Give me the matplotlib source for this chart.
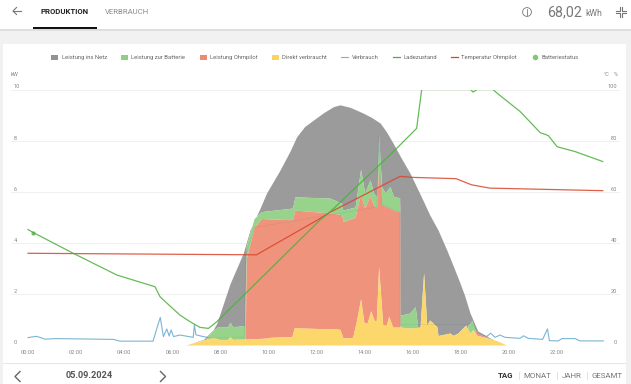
import numpy as np
import matplotlib
matplotlib.use("Agg")
import matplotlib.pyplot as plt
from matplotlib.patches import Rectangle, Circle, Patch
from matplotlib.lines import Line2D

plt.rcParams['font.family'] = ['Roboto', 'DejaVu Sans']

# ---------- data (cumulative stack tops, kW) ----------
yellow_t = [6.57,7.3,7.7,8.0,8.3,8.4,8.5,9.0,9.9,10.06,10.97,11.07,12.8,12.97,13.1,13.5,13.67,13.83,13.97,14.1,14.25,14.4,14.48,14.58,14.75,14.9,15.0,15.16,15.5,15.87,16.3,16.45,16.58,16.7,17.0,17.05,17.55,17.65,17.85,18.2,18.37,18.5,18.65,19.5,19.9]
yellow_v = [0,.2,.3,.2,.22,.35,.22,.23,.27,.3,.33,.67,.63,.61,.27,.3,1.0,1.81,.86,.86,1.34,.95,.95,3.06,.78,.78,1.13,.7,.7,.66,.7,2.83,.78,.98,.72,.37,.47,.38,.45,.78,.47,.6,.39,.17,0]
orange_t = [8.99,9.03,9.08,9.4,9.7,11.0,11.1,12.55,13.04,13.1,13.6,13.75,13.83,14.0,14.22,14.4,14.5,14.58,14.7,15.2,15.46,15.47,18.5,18.6,18.75,19.2,19.5]
orange_v = [0,.25,3.4,4.6,4.95,4.9,5.28,5.17,5.1,4.83,5.0,5.6,5.9,5.35,5.85,5.4,5.4,7.1,5.5,5.28,5.2,0,0,.55,.45,.25,.17]
green_t = [7.3,7.4,7.7,7.9,8.3,8.4,8.5,9.0,9.08,9.4,9.7,11.0,11.1,12.55,13.04,13.08,13.6,13.83,14.0,14.22,14.4,14.5,14.58,14.7,14.85,15.05,15.2,15.45,15.48,15.87,16.1,16.2,16.25,18.2,18.3,18.45,18.6,18.7]
green_v = [0,.25,.59,.72,.72,.9,.72,.75,3.9,4.95,5.22,5.36,5.8,5.75,5.55,5.28,5.4,6.88,5.95,6.46,5.87,5.85,8.22,6.2,5.95,6.2,5.8,5.77,1.17,1.25,1.5,.72,0,0,.78,.95,.6,.4]
net_t = [6.57,7.3,7.7,7.85,8.4,8.95,9.23,9.6,9.92,10.48,10.9,11.17,11.5,11.86,12.3,12.7,12.97,13.4,13.93,14.3,14.64,14.9,15.18,15.5,15.88,16.1,16.42,16.7,17.05,17.42,17.7,17.96,18.15,18.38,18.7,19.2,19.75,19.9]
net_v = [0,.22,.6,.85,2.4,3.6,4.5,5.25,5.95,6.85,7.6,8.15,8.55,8.8,9.1,9.33,9.4,9.3,9.08,8.9,8.69,8.35,7.9,7.35,6.73,6.3,5.67,5.1,4.5,3.7,3.05,2.43,1.95,1.25,.55,.28,.04,0]

verbrauch_t = [0,.36,.7,1.2,3.55,3.83,5.2,5.38,5.5,5.63,5.77,5.87,5.95,6.05,6.32,6.87,6.92,6.98,7.28,7.64,8.0,8.99,9.05,9.4,14.5,14.58,14.7,15.46,15.47,16.0,18.2,18.45,18.72,19.07,19.24,19.42,19.63,19.83,20.46,20.6,20.8,21.4,21.6,21.68,22.05,22.2,22.75,22.95,23.92]
verbrauch_v = [.29,.34,.23,.25,.22,.15,.15,.72,1.08,.33,.63,.35,.59,.33,.39,.3,.78,.4,.33,.27,.3,.3,3.5,4.6,5.4,8.2,5.5,5.2,.8,.8,.8,.86,.46,.33,.46,.3,.39,.3,.26,.36,.26,.22,.63,.17,.16,.25,.25,.16,.16]

soc_t = [0,.22,1.88,3.69,5.28,5.49,5.9,6.32,6.74,7.15,7.5,7.85,12.14,12.55,15.26,16.16,16.37,18.41,18.5,18.67,19.33,19.58,20.46,21.3,21.63,22.0,22.75,23.9]
soc_v = [45.2,44,35.9,27.4,22.8,18.9,15.3,11.7,9.1,6.9,6.5,9.1,48.9,52,76.3,84.8,100,100,99,100,100,98,91.4,83.1,82,77.6,75.7,71.8]
temp_t = [0,9.5,12.05,12.55,15.47,16.0,17.8,18.44,19.2,23.9]
temp_v = [35.9,35.3,49,51.9,66,65.6,65.1,62.7,61.4,60.4]
status_t = [.22]
status_v = [44]

series_names = ['Leistung ins Netz','Leistung zur Batterie','Leistung Ohmpilot','Direkt verbraucht','Verbrauch','Ladezustand','Temperatur Ohmpilot','Batteriestatus']
hours = list(range(0,24,2))
hour_labels = [f'{h:02d}:00' for h in hours]
left_ticks = [0,2,4,6,8,10]
right_ticks = [0,20,40,60,80,100]
date_label = '05.09.2024'
total_label = '68,02'

C_NET, C_BAT, C_OHM, C_DIR = '#939393', '#8ed081', '#ee8a72', '#fbd460'
C_USE, C_SOC, C_TMP = '#7ab6d2', '#4caf3c', '#d9442a'

W, H = 631, 384
fig = plt.figure(figsize=(W/100, H/100), dpi=100, facecolor='white')

# page furniture in pixel coordinates
bg = fig.add_axes([0,0,1,1], zorder=0)
bg.set_xlim(0,W); bg.set_ylim(H,0); bg.axis('off')
bg.add_patch(Rectangle((0,30),W,H-30,fc='#f1f1f1',ec='none'))
bg.add_patch(Rectangle((0,29),W,2,fc='#dedede',ec='none'))
bg.add_patch(Rectangle((3,44),623,H-44,fc='white',ec='none'))
bg.add_patch(Rectangle((3,362.8),623,.8,fc='#e6e6e6',ec='none'))
bg.add_patch(Rectangle((33,27),64,2,fc='#111111',ec='none'))
bg.add_patch(Rectangle((97.5,8),.6,8,fc='#dddddd',ec='none'))
bg.text(40.5,11.5,'PRODUKTION',fontsize=5.6,fontweight='bold',color='#222222',va='center',ha='left')
bg.text(105,11.5,'VERBRAUCH',fontsize=5.6,color='#8a8a8a',va='center',ha='left')
bg.text(547,12,total_label,fontsize=10.3,color='#777777',va='center',ha='left')
bg.text(585,13.5,'kWh',fontsize=6.2,color='#777777',va='center',ha='left')
bg.plot([13,21],[11,11],color='#777777',lw=.8)
bg.plot([16.5,13,16.5],[7.5,11,14.5],color='#777777',lw=.8)
bg.add_patch(Circle((527,12),4.4,fc='none',ec='#777777',lw=.6))
bg.plot([527,527],[10.8,14.5],color='#777777',lw=.6)
bg.plot([527,527],[9,9.8],color='#777777',lw=.6)
for sx,sy in [(-1,-1),(1,-1),(-1,1),(1,1)]:
    cx,cy = 621+sx*1.3,12+sy*1.3
    bg.plot([cx+sx*4,cx,cx],[cy,cy,cy+sy*4],color='#777777',lw=.8)
bg.plot([20,15,20],[371.5,376.5,381.5],color='#666666',lw=1)
bg.plot([160.5,165.5,160.5],[371.5,376.5,381.5],color='#666666',lw=1)
bg.text(89.5,376,date_label,fontsize=6.6,fontweight='bold',color='#555555',va='center',ha='center')
for lab,x,w,c in [('TAG',506,'bold','#333333'),('MONAT',537.5,'normal','#777777'),('JAHR',571.5,'normal','#777777'),('GESAMT',607.5,'normal','#777777')]:
    bg.text(x,375.8,lab,fontsize=5.7,fontweight=w,color=c,va='center',ha='center')
for x in [519,557,587]:
    bg.add_patch(Rectangle((x,372),.6,8,fc='#e2e2e2',ec='none'))
bg.text(11,75,'kW',fontsize=4.1,color='#888888',va='center',ha='left')
bg.text(610,75,'°C',fontsize=4.1,color='#888888',va='center',ha='right')
bg.text(618,75,'%',fontsize=4.1,color='#888888',va='center',ha='right')

# chart
px2t = lambda p: (p-28)/24.05
ax = fig.add_axes([11/W, 1-345/H, (620-11)/W, (345-89.5)/H], zorder=2)
ax.patch.set_alpha(0)
ax.set_xlim(px2t(11), px2t(620)); ax.set_ylim(0,10)
for s in ax.spines.values(): s.set_visible(False)
ax.set_xticks(hours); ax.set_xticklabels(hour_labels)
ax.set_yticks(left_ticks); ax.set_yticklabels(left_ticks, ha='left', va='bottom')
ax.tick_params(axis='x',length=0,pad=3.6,labelsize=4.1,labelcolor='#888888')
ax.tick_params(axis='y',length=0,pad=-2,labelsize=4.1,labelcolor='#888888')
ax.grid(axis='y',color='#f0f0f0',lw=.7,zorder=0)
ax.set_axisbelow(True)

grid = np.unique(np.concatenate([yellow_t,orange_t,green_t,net_t,np.linspace(6.5,20,541)]))
yy = np.interp(grid,yellow_t,yellow_v,left=0,right=0)
oo = np.maximum(yy,np.interp(grid,orange_t,orange_v,left=0,right=0))
gg = np.maximum(oo,np.interp(grid,green_t,green_v,left=0,right=0))
nn = np.maximum(gg,np.interp(grid,net_t,net_v,left=0,right=0))
ax.plot(verbrauch_t,verbrauch_v,color=C_USE,lw=.8,zorder=2)
A = .92
ax.fill_between(grid,gg,nn,color=C_NET,lw=0,alpha=A,zorder=3)
ax.fill_between(grid,oo,gg,color=C_BAT,lw=0,alpha=A,zorder=3)
ax.fill_between(grid,yy,oo,color=C_OHM,lw=0,alpha=A,zorder=3)
ax.fill_between(grid,0,yy,color=C_DIR,lw=0,alpha=A,zorder=3)

ax2 = ax.twinx()
ax2.set_zorder(3); ax2.patch.set_alpha(0)
ax2.set_ylim(0,100)
for s in ax2.spines.values(): s.set_visible(False)
ax2.set_yticks(right_ticks); ax2.set_yticklabels(right_ticks, ha='right', va='bottom')
ax2.tick_params(axis='y',length=0,pad=-2,labelsize=4.1,labelcolor='#888888')
ax2.plot(temp_t,temp_v,color=C_TMP,lw=.9,alpha=.85)
ax2.plot(soc_t,soc_v,color=C_SOC,lw=.9,alpha=.85)
ax2.plot(status_t,status_v,'o',color=C_SOC,ms=3,alpha=.8,mew=0)

handles = [Patch(fc=C_NET),Patch(fc=C_BAT),Patch(fc=C_OHM),Patch(fc=C_DIR),
           Line2D([],[],color=C_USE,lw=.8),Line2D([],[],color=C_SOC,lw=.9),Line2D([],[],color=C_TMP,lw=.9),
           Line2D([],[],color='#7fca72',marker='o',ms=4,ls='',mew=0)]
leg = fig.legend(handles,series_names,ncol=8,loc='center',bbox_to_anchor=(315/W,1-57.5/H),frameon=False,
           fontsize=4.2,labelcolor='#666666',handlelength=1.2,handleheight=1.15,handletextpad=.6,columnspacing=2.42,borderpad=0)
fig.savefig('out.png',dpi=100)
